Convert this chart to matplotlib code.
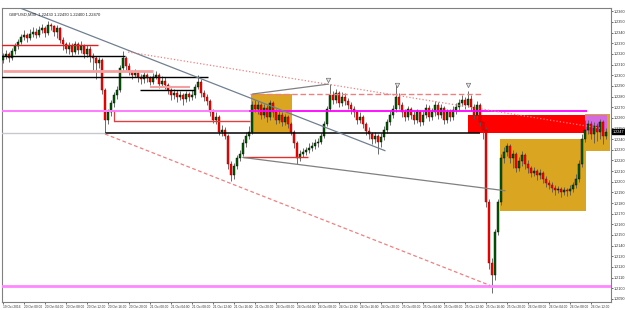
import matplotlib
matplotlib.use("Agg")
import matplotlib.pyplot as plt
import numpy as np

plt.rcParams["font.family"] = ["Liberation Sans", "DejaVu Sans"]

# GBPUSD M30 - prix en pips au-dessus de 1.2000
BASE = 1.2000
first_open = 314
closes = [318,320,316,323,327,331,336,338,335,339, 341,338,342,344,340,347,346,341,344,333,
          329,325,327,322,329,324,327,320,325,318, 316,311,314,286,258,265,274,281,286,307,
          316,309,303,300,302,298,296,300,297,294, 298,300,292,295,291,286,281,283,280,281,
          278,282,280,281,289,294,283,280,276,265, 258,261,247,249,243,217,206,215,222,226,
          236,243,247,272,268,272,263,269,261,274, 265,258,263,256,261,254,247,236,222,226,
          228,230,232,234,236,237,243,254,268,281, 277,283,274,280,276,272,268,265,258,261,
          254,248,245,240,243,237,242,249,256,263, 268,280,272,265,261,268,263,258,265,256,
          263,269,261,265,272,263,269,258,265,261, 267,270,274,277,272,278,270,263,272,256,
          249,181,124,112,153,181,222,228,234,222, 226,213,219,225,217,213,208,210,206,208,
          203,199,197,194,192,193,190,192,191,193, 197,203,217,240,249,254,245,252,247,256,
          243,247]
highs = [321,324,322,326,330,334,339,342,340,343, 345,344,346,348,346,351,349,347,347,345,
         336,331,331,330,332,331,332,329,328,327, 321,318,317,316,288,268,277,284,290,310,
         323,318,311,305,306,304,301,304,302,299, 302,304,302,299,298,293,288,287,286,285,
         283,285,284,286,292,300,296,286,282,278, 268,265,263,253,251,245,219,218,225,230,
         240,247,252,276,277,276,274,273,272,277, 276,268,267,265,264,263,256,249,238,230,
         232,233,236,237,240,241,246,257,271,292, 285,287,285,284,283,279,275,271,267,265,
         263,256,251,247,247,245,246,252,259,266, 272,291,283,275,268,271,270,266,268,267,
         266,273,272,269,276,275,273,271,268,268, 271,274,278,281,280,285,281,273,276,274,
         258,251,184,128,156,184,226,233,236,235, 230,228,223,229,227,220,215,214,212,212,
         210,205,202,200,197,196,195,195,194,197, 200,207,220,245,258,258,257,256,255,259,
         258,250]
lows = [311,315,312,314,320,325,329,333,331,333, 336,335,336,340,336,338,342,337,335,330,
        324,321,320,318,320,320,321,316,317,312, 305,296,307,282,247,254,262,270,278,284,
        304,305,300,296,298,294,292,293,294,291, 292,296,288,290,287,282,277,278,275,277,
        272,275,276,277,279,287,280,276,272,262, 255,254,244,243,240,212,201,203,212,219,
        224,233,240,245,265,264,259,260,256,258, 261,254,255,252,253,250,244,232,217,219,
        223,225,227,229,231,233,235,241,252,266, 273,274,270,271,272,268,264,261,254,255,
        250,244,240,235,236,226,233,239,246,253, 260,265,268,261,257,258,259,254,255,252,
        253,260,257,258,262,259,260,254,255,257, 258,264,267,271,268,270,266,259,260,252,
        240,176,118,96,108,150,178,218,224,218, 213,209,210,215,212,208,204,205,202,203,
        199,195,193,190,188,189,186,188,187,188, 190,194,200,214,237,245,240,236,238,240,
        235,240]

xlabels = ["19 Oct 2016",
           "20 Oct 00:00", "20 Oct 04:00", "20 Oct 08:00", "20 Oct 12:00", "20 Oct 16:00", "20 Oct 20:00",
           "21 Oct 00:00", "21 Oct 04:00", "21 Oct 08:00", "21 Oct 12:00", "21 Oct 16:00", "21 Oct 20:00",
           "24 Oct 00:00", "24 Oct 04:00", "24 Oct 08:00", "24 Oct 12:00", "24 Oct 16:00", "24 Oct 20:00",
           "25 Oct 00:00", "25 Oct 04:00", "25 Oct 08:00", "25 Oct 12:00", "25 Oct 16:00", "25 Oct 20:00",
           "26 Oct 00:00", "26 Oct 04:00", "26 Oct 08:00", "26 Oct 12:00"]
label_step = 7
yticks_pips = list(range(90, 361, 10))
title = "GBPUSD,M30  1.22430 1.22490 1.22400 1.22470"

# objets graphiques (barre, pips)
rects = [  # x0, x1, p0, p1, couleur
    (82.7, 96.3, 245.7, 282.4, "#daa520"),
    (165.7, 194.3, 172.3, 240.2, "#daa520"),
    (194.0, 202.3, 229.2, 264.0, "#daa520"),
    (155.0, 194.0, 245.7, 262.2, "#ff0000"),
    (194.3, 201.3, 247.5, 263.1, "#d36ae0"),
]
hlines = [  # pips, x0, x1, couleur, epaisseur, style
    (266.8, -1, 194.7, "#ff00ff", 1.3, "-"),
    (266.8, -1, 82, "#ff88ff", 1.3, "-"),
    (101.7, -1, 203, "#ff88ff", 2.0, "-"),
    (245.7, 34, 159, "#000000", 1.1, "-"),
    (245.7, -1, 34, "#c8c8d0", 1.0, "-"),
    (282.4, 82.3, 159.7, "#f08080", 1.0, (0, (4, 2))),
    (318.2, -1, 40.7, "#000000", 1.0, "-"),
    (328.2, -1, 31.7, "#e02020", 1.0, "-"),
    (304.4, 0, 50, "#f4a0a0", 2.0, "-"),
    (298.0, -1, 68.3, "#000000", 1.0, "-"),
    (286.1, 45.7, 64, "#000000", 1.0, "-"),
    (288.8, 49, 62.3, "#f4a0a0", 1.5, "-"),
    (256.7, 37, 82.3, "#e04040", 1.0, "-"),
    (222.8, 80, 101.7, "#e03030", 1.0, "-"),
]
tlines = [  # x0, p0, x1, p1, couleur, style
    (5.7, 363.1, 127.3, 229.2, "#708090", "-"),
    (41.7, 321.8, 199.0, 250.3, "#f08080", ":"),
    (83.3, 282.4, 108.3, 291.6, "#808080", "-"),
    (80.0, 222.8, 167.3, 191.6, "#808080", "-"),
    (34.0, 244.8, 162.3, 102.7, "#f08080", (0, (3, 2))),
    (37.0, 256.7, 37.0, 265.9, "#e04040", "-"),
]
arrows = [(108.3, 295.2), (131.3, 290.6), (155.0, 290.6)]

def P(p):
    return BASE + np.asarray(p, dtype=float) / 10000

c = P(closes)
h = P(highs)
l = P(lows)
o = P([first_open] + closes[:-1])
x = np.arange(len(c))

fig = plt.figure(figsize=(6.25, 3.1), dpi=100)
ax = fig.add_axes([2 / 625, 8 / 310, 609 / 625, 294 / 310])

for x0, x1, p0, p1, col in rects:
    ax.add_patch(plt.Rectangle((x0, P(p0)), x1 - x0, P(p1) - P(p0), color=col, lw=0, zorder=1))

up = c >= o
ax.vlines(x, l, h, color="#555555", lw=0.6, zorder=3)
body = np.maximum(np.abs(c - o), 0.00005)
ax.bar(x[up], body[up], bottom=np.minimum(o, c)[up], width=0.72, color="#006400",
       edgecolor="#000000", lw=0.3, zorder=3)
ax.bar(x[~up], body[~up], bottom=np.minimum(o, c)[~up], width=0.72, color="#ff0000",
       edgecolor="#8b0000", lw=0.3, zorder=3)

for p, x0, x1, col, lw, ls in hlines:
    ax.plot([x0, x1], [P(p), P(p)], color=col, lw=lw, ls=ls, zorder=4, solid_capstyle="butt")
for x0, p0, x1, p1, col, ls in tlines:
    ax.plot([x0, x1], [P(p0), P(p1)], color=col, lw=0.9, ls=ls, zorder=4)
ax_x = [a[0] for a in arrows]
ax_p = P([a[1] for a in arrows])
ax.plot(ax_x, ax_p, ls="none", marker="v", ms=3.2, mfc="#e8e8e8", mec="#707070", mew=0.5, zorder=5)

ax.set_xlim(-0.33, 202.67)
ax.set_ylim(P(87.1), P(363.1))

ax.yaxis.tick_right()
ax.set_yticks(P(yticks_pips))
ax.set_yticklabels(["%.4f" % v for v in P(yticks_pips)])
ax.tick_params(axis="y", labelsize=2.7, length=1.5, width=0.5, pad=0.6, colors="#303030")
ax.set_xticks(np.arange(len(xlabels)) * label_step)
ax.set_xticklabels(xlabels, ha="left")
ax.tick_params(axis="x", labelsize=2.3, length=1.5, width=0.5, pad=0.8, colors="#303030")
for s in ax.spines.values():
    s.set_color("#808080")
    s.set_linewidth(0.8)

ax.text(0.012, 0.985, title, transform=ax.transAxes, fontsize=3.0, va="top", ha="left",
        color="#202020", zorder=6)

ax.annotate("%.4f" % c[-1], xy=(1.0, c[-1]), xycoords=("axes fraction", "data"),
            xytext=(1.2, 0), textcoords="offset points", fontsize=2.7, color="white",
            va="center", ha="left", annotation_clip=False,
            bbox=dict(boxstyle="square,pad=0.15", fc="black", ec="black"))

fig.savefig("out.png", dpi=100)
